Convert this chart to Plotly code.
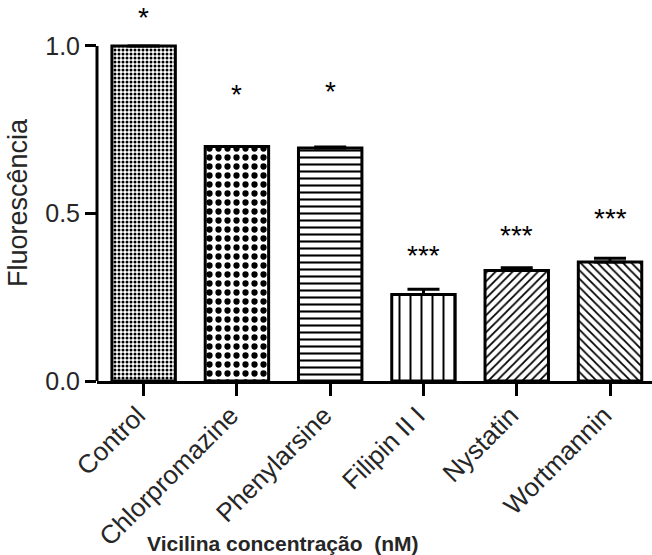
import plotly.graph_objects as go

categories = ["Control", "Chlorpromazine", "Phenylarsine", "Filipin II I", "Nystatin", "Wortmannin"]
values = [1.0, 0.70, 0.695, 0.258, 0.330, 0.355]
errors = [0.0, 0.0, 0.003, 0.016, 0.008, 0.011]
sig_labels = ["*", "*", "*", "***", "***", "***"]
sig_heights = [1.085, 0.855, 0.865, 0.375, 0.435, 0.485]
patterns = [".", ".", "-", "|", "/", "\\"]
pattern_sizes = [4, 9, 7, 11, 6, 6]
pattern_solidity = [0.45, 0.38, 0.3, 0.18, 0.3, 0.3]

FONT = "Liberation Sans, Arial, sans-serif"
xs = list(range(len(categories)))

fig = go.Figure()
fig.add_trace(go.Bar(
    x=xs, y=values, width=0.68,
    marker=dict(
        color="white",
        line=dict(color="black", width=3),
        pattern=dict(shape=patterns, size=pattern_sizes, solidity=pattern_solidity,
                     fgcolor="black", bgcolor="white", fgopacity=1, fillmode="replace"),
    ),
    error_y=dict(type="data", symmetric=False, array=errors, arrayminus=[0]*len(errors),
                 color="black", thickness=3, width=16),
    showlegend=False,
))

annotations = []
for x, lab, h in zip(xs, sig_labels, sig_heights):
    annotations.append(dict(x=x, y=h, text=lab, showarrow=False,
                            font=dict(family=FONT, size=28, color="black"),
                            xanchor="center", yanchor="middle"))

annotations += [
    dict(xref="paper", yref="paper", x=(283-97)/555, y=-(543-381)/381,
         text="<b>Vicilina concentração  (nM)</b>", showarrow=False,
         font=dict(family=FONT, size=21, color="#262626"),
         xanchor="center", yanchor="middle"),
    dict(xref="paper", yref="paper", x=(18-97)/555, y=(381-203)/381,
         text="Fluorescência", showarrow=False, textangle=-90,
         font=dict(family=FONT, size=27, color="#262626"),
         xanchor="center", yanchor="middle"),
]

# y axis line from 0 to 1
fig.add_shape(type="line", xref="paper", yref="y", x0=0, x1=0, y0=0, y1=1.0,
              line=dict(color="black", width=3))

fig.update_layout(
    width=652, height=555,
    margin=dict(l=97, r=0, t=0, b=174, autoexpand=False),
    plot_bgcolor="white", paper_bgcolor="white",
    font=dict(family=FONT, color="#262626"),
    xaxis=dict(range=[-0.5, 5.45], tickvals=xs, ticktext=categories, tickangle=-45,
               automargin=False,
               showline=True, linecolor="black", linewidth=3,
               ticks="outside", ticklen=12, tickwidth=3, tickcolor="black",
               tickfont=dict(family=FONT, size=26, color="#262626"),
               ticklabelshift=-6, ticklabelstandoff=-6,
               showgrid=False, zeroline=False),
    yaxis=dict(range=[0, 1.137], tickvals=[0, 0.5, 1.0], ticktext=["0.0", "0.5", "1.0"],
               automargin=False,
               showline=False, ticks="outside", ticklen=11, tickwidth=3, tickcolor="black",
               tickfont=dict(family=FONT, size=25, color="#262626"),
               showgrid=False, zeroline=False),
    annotations=annotations,
)

fig.write_html("out.html")
